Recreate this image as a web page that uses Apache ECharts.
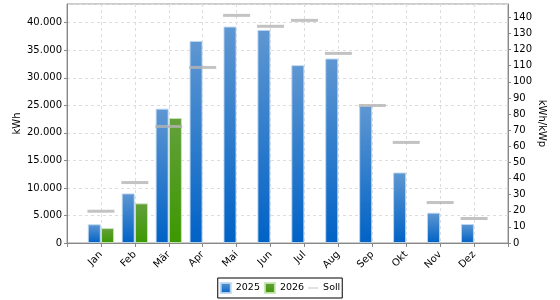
<!DOCTYPE html>
<html>
<head>
<meta charset="utf-8">
<script src="https://cdn.jsdelivr.net/npm/echarts@6/dist/echarts.min.js"></script>
<style>html,body{margin:0;padding:0;background:#fff}#c{width:560px;height:300px}</style>
</head>
<body>
<div id="c"></div>
<script>
const months = ['Jan','Feb','Mär','Apr','Mai','Jun','Jul','Aug','Sep','Okt','Nov','Dez'];
const values2025 = [3400, 9000, 24400, 36700, 39300, 38700, 32300, 33500, 24900, 12800, 5500, 3450];
const values2026 = [2700, 7200, 22700, null, null, null, null, null, null, null, null, null];
const sollKwhKwp = [19.7, 37.5, 72.3, 108.9, 141.2, 134.4, 138.1, 117.6, 85.3, 62.4, 25.1, 15.2];
const leftTicksMax = 43400;
const rightTicksMax = 148.25;

const cats = [''].concat(months, ['']);
const pad = a => [null].concat(a, [null]);
const fmt = v => String(Math.round(v)).replace(/\B(?=(\d{3})+(?!\d))/g, '.');
const FONT = 'DejaVu Sans';

const chart = echarts.init(document.getElementById('c'), null, {renderer: 'canvas'});
chart.setOption({
  animation: false,
  textStyle: {fontFamily: FONT},
  grid: {left: 67, right: 52, top: 4, bottom: 57, outerBoundsMode: 'none', containLabel: false,
         show: true, borderColor: '#999', borderWidth: 1, backgroundColor: 'transparent'},
  legend: {
    bottom: 2, left: 'center',
    itemWidth: 10, itemHeight: 10, itemGap: 4,
    borderColor: '#000', borderWidth: 1, padding: [4, 2, 4, 2],
    textStyle: {fontFamily: FONT, fontSize: 9.5, color: '#000'},
    data: [
      {name: '2025', icon: 'rect'},
      {name: '2026', icon: 'rect'},
      {name: 'Soll', icon: 'path://M0,0 M20,20 M0,9 L20,9 L20,11 L0,11 Z'}
    ]
  },
  xAxis: {
    type: 'category', data: cats, boundaryGap: false,
    axisLine: {lineStyle: {color: '#888'}},
    axisTick: {show: true, length: 4, lineStyle: {color: '#888'}},
    axisLabel: {rotate: 45, fontSize: 10, color: '#000', fontFamily: FONT, margin: 10},
    splitLine: {show: true, lineStyle: {color: '#ddd', type: [3, 3]}}
  },
  yAxis: [
    {
      type: 'value', min: 0, max: leftTicksMax, interval: 5000,
      name: 'kWh', nameLocation: 'middle', nameGap: 45, nameRotate: 90, nameMoveOverlap: false,
      nameTextStyle: {fontSize: 10, color: '#000', fontFamily: FONT},
      axisLine: {show: true, lineStyle: {color: '#888'}},
      axisTick: {show: true, length: 3, lineStyle: {color: '#888'}},
      axisLabel: {fontSize: 10, color: '#000', fontFamily: FONT, margin: 5, showMaxLabel: false, formatter: fmt},
      splitLine: {show: true, lineStyle: {color: '#ddd', type: [3, 3]}}
    },
    {
      type: 'value', min: 0, max: rightTicksMax, interval: 10, position: 'right',
      name: 'kWh/kWp', nameLocation: 'middle', nameGap: 29, nameRotate: -90, nameMoveOverlap: false,
      nameTextStyle: {fontSize: 10, color: '#000', fontFamily: FONT},
      axisLine: {show: true, lineStyle: {color: '#888'}},
      axisTick: {show: true, length: 3, lineStyle: {color: '#888'}},
      axisLabel: {fontSize: 10, color: '#000', fontFamily: FONT, margin: 5, showMaxLabel: false},
      splitLine: {show: false}
    }
  ],
  series: [
    {
      name: '2025', type: 'bar', data: pad(values2025), barWidth: 13, barGap: '2%',
      itemStyle: {
        color: new echarts.graphic.LinearGradient(0, 0, 0, 1, [{offset: 0, color: '#5f97d2'}, {offset: 1, color: '#0062c6'}]),
        borderColor: 'rgba(190,215,240,0.9)', borderWidth: 1
      }
    },
    {
      name: '2026', type: 'bar', data: pad(values2026), barWidth: 13, barGap: '2%',
      itemStyle: {
        color: new echarts.graphic.LinearGradient(0, 0, 0, 1, [{offset: 0, color: '#64a03c'}, {offset: 1, color: '#3c9800'}]),
        borderColor: 'rgba(200,230,180,0.9)', borderWidth: 1
      }
    },
    {
      name: 'Soll', type: 'scatter', yAxisIndex: 1, data: pad(sollKwhKwp),
      symbol: 'rect', symbolSize: [27, 3],
      itemStyle: {color: '#b4b4b4'}, z: 5
    }
  ]
});
</script>
</body>
</html>
